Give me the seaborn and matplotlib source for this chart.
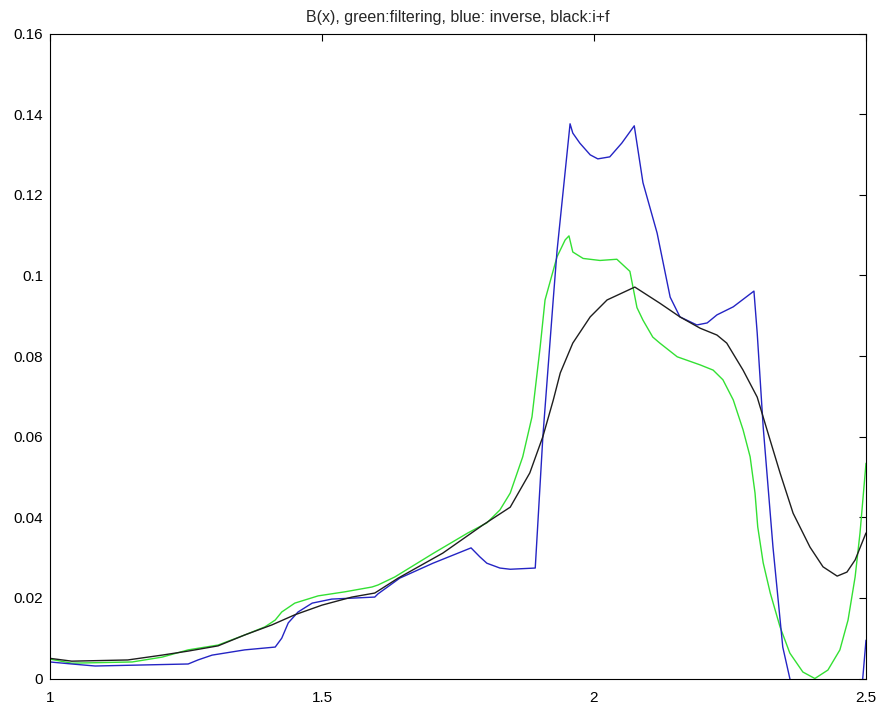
import numpy as np
import pandas as pd
import matplotlib
matplotlib.use("Agg")
import matplotlib.pyplot as plt
from matplotlib.ticker import FuncFormatter
import seaborn as sns

# B(x) from the inverse method
x_inverse = [1.000, 1.040, 1.083, 1.254, 1.272, 1.298, 1.358, 1.414, 1.426, 1.438,
             1.456, 1.482, 1.518, 1.597, 1.603, 1.643, 1.704, 1.774, 1.790, 1.803,
             1.827, 1.846, 1.892, 1.906, 1.925, 1.932, 1.956, 1.961, 1.974, 1.993,
             2.007, 2.029, 2.051, 2.074, 2.090, 2.116, 2.140, 2.158, 2.189, 2.208,
             2.226, 2.256, 2.294, 2.300, 2.311, 2.329, 2.347, 2.360, 2.400, 2.450,
             2.494, 2.500]
b_inverse = [0.0041, 0.0036, 0.0031, 0.0036, 0.0046, 0.0058, 0.0071, 0.0078, 0.0100, 0.0138,
             0.0165, 0.0187, 0.0197, 0.0202, 0.0210, 0.0249, 0.0286, 0.0324, 0.0302, 0.0286,
             0.0274, 0.0271, 0.0274, 0.0600, 0.0939, 0.1060, 0.1376, 0.1353, 0.1328, 0.1299,
             0.1289, 0.1294, 0.1328, 0.1371, 0.1230, 0.1105, 0.0946, 0.0897, 0.0877, 0.0882,
             0.0902, 0.0922, 0.0961, 0.0857, 0.0624, 0.0326, 0.0078, 0.0000, -0.0220, -0.0300,
             0.0000, 0.0095]

# B(x) from filtering
x_filter = [1.000, 1.040, 1.151, 1.206, 1.254, 1.309, 1.358, 1.395, 1.414, 1.426,
            1.450, 1.493, 1.542, 1.592, 1.603, 1.634, 1.704, 1.768, 1.803, 1.827,
            1.846, 1.869, 1.886, 1.901, 1.910, 1.932, 1.947, 1.954, 1.961, 1.980,
            2.011, 2.042, 2.066, 2.079, 2.090, 2.108, 2.121, 2.153, 2.195, 2.219,
            2.237, 2.256, 2.274, 2.287, 2.296, 2.301, 2.311, 2.324, 2.342, 2.360,
            2.384, 2.406, 2.430, 2.452, 2.467, 2.480, 2.489, 2.500]
b_filter = [0.0048, 0.0038, 0.0041, 0.0053, 0.0071, 0.0083, 0.0108, 0.0128, 0.0145, 0.0165,
            0.0187, 0.0205, 0.0215, 0.0227, 0.0232, 0.0252, 0.0310, 0.0361, 0.0386, 0.0418,
            0.0460, 0.0550, 0.0649, 0.0822, 0.0939, 0.1046, 0.1088, 0.1098, 0.1058, 0.1042,
            0.1037, 0.1040, 0.1010, 0.0920, 0.0889, 0.0847, 0.0832, 0.0798, 0.0778, 0.0765,
            0.0741, 0.0691, 0.0617, 0.0550, 0.0460, 0.0376, 0.0287, 0.0212, 0.0128, 0.0063,
            0.0016, 0.0000, 0.0021, 0.0071, 0.0145, 0.0252, 0.0361, 0.0534]

# B(x) from inverse + filtering
x_combined = [1.000, 1.040, 1.143, 1.206, 1.254, 1.309, 1.358, 1.408, 1.450, 1.500,
              1.555, 1.597, 1.640, 1.722, 1.796, 1.846, 1.882, 1.906, 1.925, 1.938,
              1.961, 1.993, 2.024, 2.075, 2.121, 2.158, 2.195, 2.226, 2.244, 2.274,
              2.300, 2.318, 2.342, 2.366, 2.397, 2.421, 2.447, 2.465, 2.480, 2.500]
b_combined = [0.0050, 0.0043, 0.0046, 0.0058, 0.0068, 0.0081, 0.0108, 0.0133, 0.0158, 0.0182,
              0.0202, 0.0212, 0.0249, 0.0311, 0.0381, 0.0425, 0.0510, 0.0600, 0.0690, 0.0758,
              0.0832, 0.0897, 0.0939, 0.0971, 0.0931, 0.0897, 0.0869, 0.0852, 0.0832, 0.0765,
              0.0698, 0.0617, 0.0510, 0.0410, 0.0326, 0.0277, 0.0254, 0.0264, 0.0294, 0.0361]

x_ticks = [1, 1.5, 2, 2.5]
y_ticks = [0, 0.02, 0.04, 0.06, 0.08, 0.1, 0.12, 0.14, 0.16]
title = "B(x), green:filtering, blue: inverse, black:i+f"

sns.set_style("white")
plt.rcParams["font.family"] = ["Liberation Sans", "DejaVu Sans"]

fig = plt.figure(figsize=(8.78, 7.06), dpi=100)
ax = fig.add_axes([50 / 878, 27.5 / 706, 816 / 878, 645 / 706])

series = [
    (x_filter, b_filter, "#33e033"),
    (x_inverse, b_inverse, "#2424c4"),
    (x_combined, b_combined, "#1e1e1e"),
]
for xs, ys, col in series:
    df = pd.DataFrame({"x": xs, "B": ys})
    sns.lineplot(data=df, x="x", y="B", ax=ax, color=col, linewidth=1.0,
                 estimator=None, sort=False)

ax.set_xlim(1, 2.5)
ax.set_ylim(0, 0.16)
ax.set_xticks(x_ticks)
ax.set_yticks(y_ticks)
fmt = FuncFormatter(lambda v, p: f"{v:g}")
ax.xaxis.set_major_formatter(fmt)
ax.yaxis.set_major_formatter(fmt)
ax.set_xlabel("")
ax.set_ylabel("")
ax.tick_params(direction="in", length=5, width=0.8, colors="black",
               top=True, right=True, labelsize=11)
ax.tick_params(axis="x", pad=9)
ax.tick_params(axis="y", pad=5)
for s in ax.spines.values():
    s.set_visible(True)
    s.set_color("black")
    s.set_linewidth(0.8)
ax.set_title(title, fontsize=11.5, pad=8)

fig.savefig("out.png", dpi=100)
